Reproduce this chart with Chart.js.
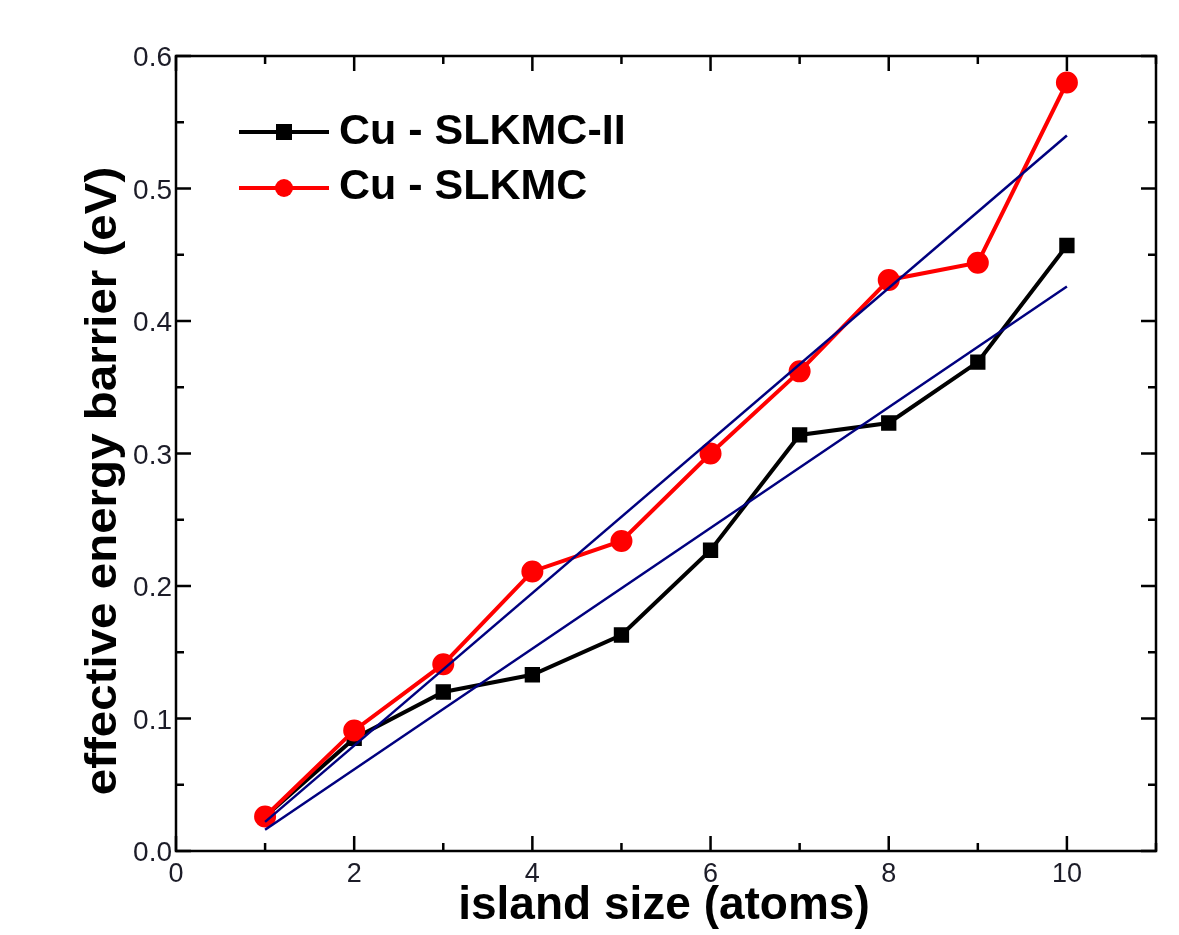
<!DOCTYPE html>
<html><head><meta charset="utf-8">
<script src="https://cdn.jsdelivr.net/npm/chart.js@4.4.0/dist/chart.umd.min.js"></script>
<style>html,body{margin:0;padding:0;background:#fff}#wrap{width:1179px;height:935px;position:relative}</style>
</head><body><div id="wrap"><canvas id="c" width="1179" height="935"></canvas></div>
<script>
const islandSizes = [1, 2, 3, 4, 5, 6, 7, 8, 9, 10];
const slkmc2Values = [0.026, 0.085, 0.120, 0.133, 0.163, 0.227, 0.314, 0.323, 0.369, 0.457];
const slkmcValues = [0.026, 0.091, 0.141, 0.211, 0.234, 0.300, 0.362, 0.431, 0.444, 0.580];
const fitX = [1, 10];
const fitSlkmc = [0.022, 0.540];
const fitSlkmc2 = [0.016, 0.426];
const xTickValues = [0, 2, 4, 6, 8, 10];
const yTickValues = [0.0, 0.1, 0.2, 0.3, 0.4, 0.5, 0.6];
const seriesNames = ['Cu - SLKMC-II', 'Cu - SLKMC'];
const xTitle = 'island size (atoms)';
const yTitle = 'effective energy barrier (eV)';

const toPts = (xs, ys) => xs.map((x, i) => ({x, y: ys[i]}));
const FONT = '"Liberation Sans", Arial, sans-serif';

const framePlugin = {
  id: 'frame',
  afterDatasetsDraw(chart) {
    const {ctx, chartArea: a, scales: {x, y}} = chart;
    ctx.save();
    ctx.strokeStyle = '#000';
    ctx.lineWidth = 2.5;
    ctx.strokeRect(a.left, a.top, a.right - a.left, a.bottom - a.top);
    for (let v = 0; v <= 11; v++) {
      const px = x.getPixelForValue(v);
      const len = v % 2 === 0 ? 15 : 8;
      ctx.beginPath();
      ctx.moveTo(px, a.bottom); ctx.lineTo(px, a.bottom - len);
      ctx.moveTo(px, a.top); ctx.lineTo(px, a.top + len);
      ctx.stroke();
    }
    for (let k = 0; k <= 12; k++) {
      const py = y.getPixelForValue(k * 0.05);
      const len = k % 2 === 0 ? 15 : 8;
      ctx.beginPath();
      ctx.moveTo(a.left, py); ctx.lineTo(a.left + len, py);
      ctx.moveTo(a.right, py); ctx.lineTo(a.right - len, py);
      ctx.stroke();
    }
    // tick labels
    ctx.fillStyle = '#1c1c28';
    ctx.font = '27px ' + FONT;
    ctx.textAlign = 'center'; ctx.textBaseline = 'alphabetic';
    xTickValues.forEach(v => ctx.fillText(String(v), x.getPixelForValue(v), a.bottom + 31));
    ctx.font = '28px ' + FONT;
    ctx.textAlign = 'right';
    yTickValues.forEach(v => ctx.fillText(v.toFixed(1), a.left - 4, y.getPixelForValue(v) + 10));
    // titles
    ctx.fillStyle = '#000';
    ctx.font = 'bold 46px ' + FONT;
    ctx.textAlign = 'center'; ctx.textBaseline = 'alphabetic';
    ctx.fillText(xTitle, 664, 919);
    ctx.save();
    ctx.translate(116, 481);
    ctx.rotate(-Math.PI / 2);
    ctx.scale(1.08, 1);
    ctx.font = 'bold 44px ' + FONT;
    ctx.fillText(yTitle, 0, 0);
    ctx.restore();
    // legend
    const items = [
      {ds: chart.data.datasets[0], yy: 132, base: 144},
      {ds: chart.data.datasets[1], yy: 188, base: 199}
    ];
    items.forEach(it => {
      ctx.strokeStyle = it.ds.borderColor;
      ctx.lineWidth = 4;
      ctx.beginPath(); ctx.moveTo(239, it.yy); ctx.lineTo(329, it.yy); ctx.stroke();
      ctx.fillStyle = it.ds.borderColor;
      if (it.ds.pointStyle === 'rect') {
        ctx.fillRect(284 - 8, it.yy - 8, 16, 16);
      } else {
        ctx.beginPath(); ctx.arc(284, it.yy, 9, 0, Math.PI * 2); ctx.fill();
      }
      ctx.fillStyle = '#000';
      ctx.font = 'bold 43px ' + FONT;
      ctx.textAlign = 'left'; ctx.textBaseline = 'alphabetic';
      ctx.fillText(it.ds.label, 339, it.base);
    });
    ctx.restore();
  }
};

new Chart(document.getElementById('c'), {
  type: 'line',
  data: {
    datasets: [
      {label: seriesNames[0], data: toPts(islandSizes, slkmc2Values), borderColor: '#000', backgroundColor: '#000',
       borderWidth: 4, pointStyle: 'rect', pointRadius: 8, pointHoverRadius: 8, order: 3},
      {label: seriesNames[1], data: toPts(islandSizes, slkmcValues), borderColor: '#ff0000', backgroundColor: '#ff0000',
       borderWidth: 4, pointStyle: 'circle', pointRadius: 9, pointHoverRadius: 9, order: 2},
      {label: 'fit1', data: toPts(fitX, fitSlkmc), borderColor: '#00007f', borderWidth: 2.5, pointRadius: 0, order: 1},
      {label: 'fit2', data: toPts(fitX, fitSlkmc2), borderColor: '#00007f', borderWidth: 2.5, pointRadius: 0, order: 1}
    ]
  },
  options: {
    responsive: false,
    animation: false,
    layout: {padding: {top: 56, right: 23, left: 0, bottom: 0}},
    plugins: {legend: {display: false}, tooltip: {enabled: false}},
    scales: {
      x: {type: 'linear', min: 0, max: 11, grid: {display: false}, border: {display: false},
          ticks: {display: false}, afterFit(s) { s.height = 84; }},
      y: {type: 'linear', min: 0, max: 0.6, grid: {display: false}, border: {display: false},
          ticks: {display: false}, afterFit(s) { s.width = 176; }}
    }
  },
  plugins: [framePlugin]
});
</script></body></html>
